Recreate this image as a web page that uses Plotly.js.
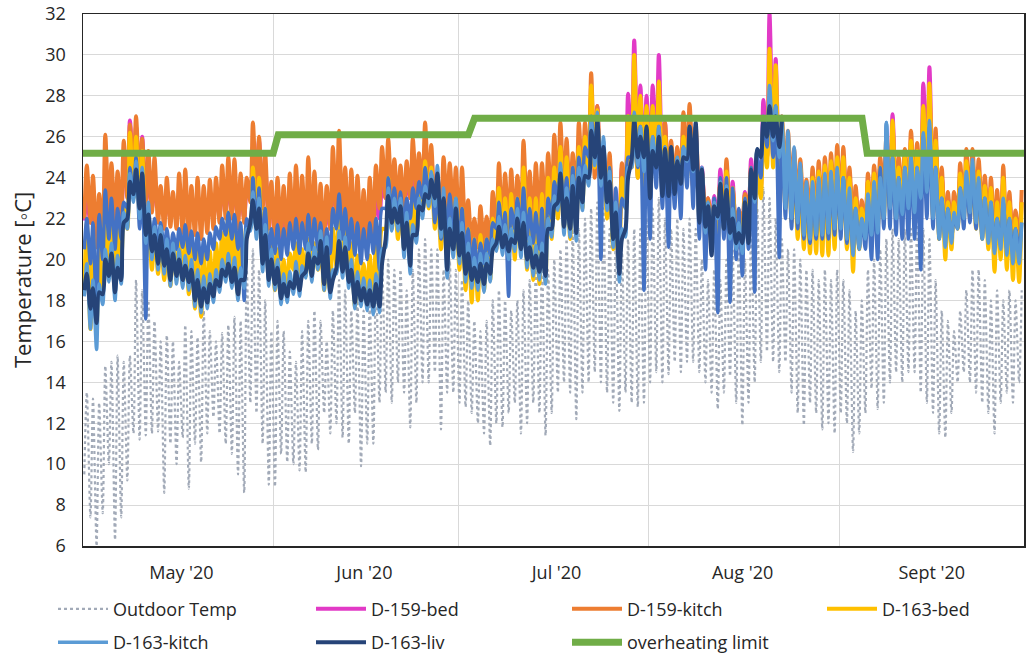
<!DOCTYPE html>
<html>
<head>
<meta charset="utf-8">
<script src="https://cdn.plot.ly/plotly-3.0.1.min.js"></script>
<style>
  html, body { margin: 0; padding: 0; background: #ffffff; }
  #chart { width: 1026px; height: 657px; }
</style>
</head>
<body>
<div id="chart"></div>
<script>
// Daily minimum / maximum readings, 1 May 2020 (index 0) to 30 Sept 2020 (index 152)
const yAxisTitle = 'Temperature [\u25E6C]';
const monthLabels = ["May '20", "Jun '20", "Jul '20", "Aug '20", "Sept '20"];
const monthLabelDates = ['2020-05-17', '2020-06-15 18:00', '2020-07-17', '2020-08-16 06:00', '2020-09-16'];
const monthStarts = ['2020-06-01', '2020-07-01', '2020-08-01', '2020-09-01'];

const outdoorMax = [
  13.5,13.2,13.0,14.8,15.0,15.3,15.0,15.3,19.0,18.5,18.0,17.0,16.0,16.3,16.0,15.0,16.8,16.5,16.2,17.5,16.5,16.0,16.4,16.8,17.2,17.0,19.5,20.5,19.5,18.0,16.5,
  17.0,16.5,15.5,15.0,16.5,17.0,17.5,17.0,16.0,17.5,19.0,18.5,17.5,18.0,17.5,18.0,19.0,20.0,20.0,19.5,19.5,18.5,19.5,20.5,21.0,20.5,20.5,19.5,20.0,19.5,
  19.0,18.0,17.0,16.5,17.0,18.0,18.5,18.0,17.5,18.0,18.5,19.0,19.5,20.0,19.5,20.0,20.5,21.0,21.5,21.5,22.0,22.5,22.8,22.5,21.5,21.0,20.5,21.0,21.5,21.5,22.0,
  22.5,23.0,22.0,21.5,22.0,21.5,22.0,21.5,20.0,19.0,19.5,19.0,20.0,20.5,21.0,20.0,21.5,22.5,23.5,23.0,22.0,21.0,20.5,20.5,20.0,19.5,19.5,19.0,19.5,19.0,19.5,
  19.0,18.5,17.5,18.0,19.5,20.0,20.5,21.0,21.5,21.0,21.5,21.5,22.0,21.5,21.0,19.0,17.5,17.0,16.5,17.5,18.5,19.5,19.5,19.0,18.0,18.5,18.0,18.5,18.0,18.5
];
const outdoorMin = [
  9.5,7.4,6.0,7.6,10.0,6.3,7.4,9.2,11.5,11.2,11.4,11.5,11.6,8.6,11.0,10.0,11.3,8.8,11.0,10.1,11.5,12.3,11.5,11.0,10.5,9.5,8.6,13.0,12.5,11.0,9.0,
  8.9,10.5,10.1,10.0,9.7,9.6,11.0,10.7,12.5,11.5,12.0,11.3,11.0,12.5,9.9,11.0,11.0,13.0,13.5,13.0,14.0,13.5,11.8,13.0,14.0,14.0,14.5,11.7,13.5,13.5,
  13.0,12.8,12.5,12.0,11.5,10.9,12.0,11.8,12.5,13.0,11.5,12.0,13.0,12.5,11.4,12.5,13.5,14.0,13.5,12.2,13.5,14.0,14.5,14.0,13.5,13.0,12.6,13.5,13.0,12.8,13.0,
  14.0,14.5,14.0,14.4,15.0,14.5,15.0,15.0,14.5,14.0,13.5,12.7,13.5,14.3,13.0,11.9,13.0,14.0,15.0,15.5,15.0,14.5,15.0,13.5,12.5,11.9,13.0,12.5,11.7,12.0,11.5,
  12.5,12.0,10.6,11.5,12.5,13.7,12.7,13.0,14.0,14.5,14.0,14.5,14.5,13.5,13.0,12.5,11.5,11.3,12.5,14.0,14.5,14.0,13.5,13.0,12.5,11.5,13.0,13.5,13.0,14.0
];

const bed159Max = [
  23.0,22.8,22.5,24.0,23.5,23.2,24.0,26.8,26.5,26.0,24.0,23.5,23.0,23.0,22.8,23.0,23.2,23.0,23.0,22.8,23.0,23.2,23.5,23.8,23.8,23.3,23.3,25.5,25.8,24.5,23.0,
  22.8,22.5,22.8,23.0,22.8,23.2,23.0,23.0,22.7,23.5,24.5,23.5,23.2,23.0,22.5,22.8,23.0,23.5,24.5,24.2,24.0,23.8,24.2,24.5,25.5,25.0,24.0,23.5,24.0,23.5,
  22.5,21.6,21.3,21.4,21.3,21.8,23.0,22.8,23.0,22.8,24.0,23.2,23.0,23.2,23.8,24.5,25.5,25.0,24.5,25.5,26.0,28.0,27.5,25.2,24.8,22.8,24.5,28.1,30.7,28.5,28.0,
  28.5,30.0,26.7,25.5,25.3,26.5,27.0,26.0,24.5,23.0,23.1,24.4,24.5,23.8,22.2,23.3,24.9,24.9,27.8,32.0,29.8,26.5,25.5,24.8,24.3,23.5,23.8,24.0,24.2,24.2,24.5,
  25.0,24.0,23.2,22.6,23.8,24.2,24.5,25.5,27.1,24.5,25.0,25.5,25.2,28.6,29.4,25.8,24.0,23.0,22.8,24.0,24.5,24.5,24.2,23.6,23.5,23.0,23.8,22.8,22.0,22.8
];
const bed159Min = [
  21.9,21.8,21.3,21.8,22.0,22.0,22.2,23.5,24.0,23.5,22.8,22.5,22.5,22.2,22.0,22.0,22.0,21.8,21.8,21.6,21.8,22.0,22.2,22.4,22.3,22.0,22.0,23.0,23.5,22.8,22.0,
  21.0,21.0,21.2,21.3,21.2,21.3,21.3,21.2,21.0,21.5,22.5,21.8,21.5,21.2,21.0,21.2,21.3,22.0,23.0,23.0,22.8,22.5,23.0,23.2,23.5,23.2,22.5,22.3,22.5,22.3,
  21.0,20.7,20.6,20.6,20.6,20.8,21.5,21.5,21.5,21.5,21.8,21.5,21.3,21.3,21.5,22.5,23.0,22.5,22.3,22.5,23.3,24.5,25.0,23.5,22.5,21.5,21.5,23.0,25.0,24.5,24.0,
  24.5,25.0,24.0,23.5,23.3,23.8,24.2,23.5,22.5,21.8,21.5,21.8,22.0,21.5,21.0,21.3,22.0,22.5,23.5,25.0,25.0,24.0,23.0,22.5,22.3,22.0,22.0,22.0,22.0,22.0,22.2,
  22.8,22.3,21.8,21.5,21.8,22.2,22.6,23.0,23.2,23.0,23.0,23.2,23.2,23.8,24.2,23.0,22.0,21.8,21.6,22.2,22.6,22.6,22.4,22.2,21.8,21.5,21.3,21.0,21.0,21.2
];

const kitch159Max = [
  24.6,24.1,23.2,26.1,24.7,24.3,25.8,26.6,27.0,25.9,25.3,25.0,23.6,24.0,23.3,24.2,24.4,23.6,24.0,23.6,23.9,24.0,24.6,25.0,24.9,24.2,24.0,26.7,26.0,25.2,23.8,
  24.0,23.6,24.2,24.6,24.1,25.0,24.3,23.7,23.6,25.5,26.3,24.5,24.4,24.1,23.4,24.0,24.6,25.5,25.9,24.9,24.6,24.8,25.9,25.2,26.7,25.6,24.1,25.0,24.7,24.5,
  24.5,22.9,22.0,22.6,22.1,23.3,24.7,24.2,24.4,24.1,25.8,24.3,24.7,24.7,25.2,26.1,26.7,25.9,25.2,26.7,26.7,29.1,27.5,25.4,25.2,22.8,24.7,27.0,27.5,26.5,26.0,
  26.5,27.5,26.7,25.8,25.5,27.2,27.6,26.5,24.3,23.0,22.8,23.8,24.9,23.5,22.4,23.2,24.5,24.5,26.5,28.0,27.5,27.0,26.3,25.4,24.9,23.9,24.5,24.8,25.0,25.2,25.6,
  25.5,24.5,23.6,22.9,24.2,24.6,25.0,26.0,26.5,25.0,25.4,26.3,25.7,27.0,28.0,26.4,24.5,23.3,23.3,24.7,25.4,25.4,24.9,24.1,24.0,23.4,24.6,23.3,22.4,23.4
];
const kitch159Min = [
  22.0,21.8,20.6,21.5,22.0,21.8,22.0,23.0,24.0,23.5,22.5,22.3,21.8,21.5,21.6,21.5,21.3,21.0,21.2,21.0,21.3,21.5,21.8,22.0,22.0,21.5,21.8,22.8,23.0,22.5,21.5,
  21.0,21.2,21.0,21.2,21.3,21.0,21.2,21.0,20.8,21.5,22.0,21.5,21.3,21.0,20.8,21.0,21.3,22.5,23.0,22.8,22.5,22.3,23.0,23.2,23.5,23.0,22.0,22.0,22.5,22.3,
  21.0,20.8,20.5,20.6,20.5,20.8,21.5,21.3,21.5,21.3,22.0,21.8,21.5,21.8,22.0,22.5,23.0,22.8,22.5,23.0,23.5,24.0,24.0,23.0,22.5,21.5,21.8,23.0,24.5,24.0,24.0,
  24.5,25.0,24.0,23.5,23.5,24.0,24.5,24.0,23.0,22.0,21.8,22.0,22.5,22.0,21.5,21.8,22.5,23.0,24.0,25.0,25.5,24.5,23.5,23.0,22.5,22.3,22.0,22.0,22.0,22.2,22.3,
  22.5,22.0,21.5,21.2,21.5,22.0,22.5,23.0,23.0,22.8,23.0,23.0,23.0,23.5,24.0,23.0,21.5,21.0,21.0,22.0,22.5,22.5,22.3,22.0,21.5,21.0,21.0,20.5,20.5,21.0
];

const bed163Max = [
  21.8,21.2,20.5,22.8,22.0,21.8,22.5,26.2,26.0,25.3,22.2,21.5,21.2,21.0,20.8,21.0,21.2,20.8,20.6,20.3,20.4,20.8,21.3,22.3,21.8,21.3,21.8,24.5,24.0,22.5,21.0,
  20.5,20.0,20.3,20.8,20.5,21.0,20.8,21.2,20.5,21.5,22.5,21.5,20.8,20.2,19.8,20.2,20.8,21.5,24.0,23.3,23.0,22.5,22.8,23.2,24.8,24.5,23.5,23.0,23.0,23.0,
  22.5,21.5,21.0,21.2,21.0,22.0,23.5,23.0,23.2,23.0,24.5,23.0,23.0,23.2,24.0,24.5,25.5,25.0,24.5,25.5,26.0,28.5,27.3,25.0,24.5,22.5,24.0,27.0,30.0,28.0,27.5,
  27.5,28.7,26.0,25.5,25.0,26.0,26.5,25.8,24.2,22.8,22.5,23.8,24.3,23.5,22.0,23.0,24.3,24.3,26.5,30.3,29.5,26.8,25.8,25.0,24.5,23.5,24.0,24.3,24.6,24.8,25.0,
  25.0,24.0,23.0,22.5,23.8,24.2,24.5,25.5,26.8,24.5,25.0,25.8,25.3,27.5,28.6,25.8,24.0,22.8,22.8,24.2,24.8,24.8,24.3,23.6,23.5,22.8,24.0,22.8,22.0,22.8
];
const bed163Min = [
  18.5,16.6,16.5,18.5,19.5,19.0,19.5,21.5,23.0,22.0,20.0,19.5,19.3,19.0,18.7,19.0,18.8,18.3,17.6,17.2,17.8,18.2,19.0,19.8,19.5,18.2,19.0,21.5,21.5,20.0,19.5,
  18.5,18.3,18.4,19.5,18.8,19.2,19.5,19.5,18.5,18.5,19.7,19.5,19.0,17.7,18.0,18.3,18.0,18.5,21.5,21.5,21.0,20.5,20.5,21.5,22.5,22.5,21.5,20.5,20.0,20.5,
  19.5,18.5,17.9,18.0,18.5,19.0,20.5,20.5,20.3,20.0,20.5,19.5,19.0,18.8,18.9,21.0,22.0,21.5,21.0,21.5,22.5,24.0,24.5,23.0,22.0,20.5,20.0,22.5,24.5,24.0,23.5,
  24.0,24.5,23.5,23.0,23.0,23.5,24.0,23.5,22.0,21.5,21.2,21.0,21.5,21.0,20.8,21.0,21.5,22.0,23.0,24.5,24.5,23.5,22.5,21.8,21.0,20.5,20.3,20.3,20.2,20.2,20.5,
  21.3,20.5,19.4,20.5,21.0,21.3,21.5,22.0,22.5,22.0,22.0,22.3,22.3,23.0,23.5,22.0,21.0,20.0,20.5,21.5,22.0,22.0,21.5,21.0,20.5,19.4,20.0,19.5,19.0,18.9
];

// series drawn in the reference without a legend entry (medium blue)
const unlabelledMax = [
  22.0,21.8,22.2,23.4,23.0,22.5,22.8,24.5,25.0,24.2,22.5,22.0,21.8,21.5,21.3,21.5,21.7,21.4,21.3,21.0,21.3,21.6,22.0,22.3,22.2,21.8,22.0,24.0,23.5,22.5,21.5,
  21.7,21.5,21.8,22.0,21.8,22.2,22.0,21.8,21.5,22.5,23.2,22.5,22.0,21.8,21.5,21.8,22.0,22.5,24.0,23.5,23.3,23.0,23.5,23.8,24.5,24.2,23.5,23.0,23.2,23.0,
  22.5,21.5,21.0,20.8,21.0,21.8,22.8,22.3,22.5,23.0,23.5,22.5,22.3,22.5,23.0,23.8,24.5,24.0,24.5,25.0,25.5,27.0,26.8,25.8,24.5,23.5,23.0,25.0,27.0,26.5,26.0,
  26.0,26.5,25.5,25.0,25.0,25.5,26.5,26.5,24.5,22.8,23.0,24.0,24.0,23.5,22.5,23.0,24.5,25.0,27.0,28.0,27.5,26.5,25.5,24.8,24.3,23.5,23.5,23.8,24.0,24.0,24.2,
  24.0,23.0,22.5,22.0,23.0,23.5,24.5,26.7,25.0,24.0,24.5,25.0,24.5,26.0,26.5,24.5,23.0,22.5,22.0,23.5,24.0,24.5,23.8,23.0,22.8,22.0,22.8,22.0,21.5,21.8
];
const unlabelledMin = [
  20.5,19.8,17.0,20.0,21.0,20.5,21.0,22.5,23.0,21.5,17.1,20.5,20.8,20.5,20.2,20.5,20.6,20.3,20.0,19.8,20.0,20.5,21.0,21.2,21.0,20.5,18.0,21.5,21.5,20.5,20.0,
  20.3,20.0,20.2,20.5,20.3,20.5,20.5,20.5,20.0,20.3,21.5,21.0,20.5,20.2,19.8,20.0,20.3,19.5,22.5,22.3,22.0,21.5,22.0,22.5,23.0,23.0,21.8,21.0,21.5,21.5,
  20.5,20.0,19.5,19.3,19.8,20.2,21.5,21.0,18.2,21.5,21.5,21.0,20.8,20.5,19.0,22.0,23.0,22.5,22.0,22.5,23.5,25.0,25.0,20.0,22.5,21.0,20.5,22.5,25.0,24.5,18.5,
  21.0,23.5,22.5,20.6,22.5,22.0,23.5,22.5,21.0,19.5,21.0,17.4,21.0,17.9,20.0,19.2,20.5,18.4,24.0,25.5,25.0,20.1,22.0,21.5,21.5,21.0,20.8,21.0,21.0,21.0,21.2,
  21.0,20.8,20.5,20.5,20.5,20.0,20.0,21.5,21.5,21.2,21.0,21.0,21.0,19.5,22.0,21.5,21.0,21.0,21.0,21.5,21.5,21.8,21.5,21.0,21.0,20.5,20.8,20.5,20.3,20.5
];

const kitch163Max = [
  19.8,19.0,18.8,20.5,20.8,20.2,22.3,24.2,24.8,24.5,22.8,21.6,21.6,21.0,20.8,20.5,20.2,20.0,19.5,19.2,19.3,19.5,20.0,20.3,20.1,19.6,21.5,23.3,23.0,21.7,20.5,
  20.0,19.3,19.4,19.9,19.7,20.8,20.6,21.4,21.1,19.5,21.4,21.1,20.0,19.4,19.1,19.0,19.3,20.5,23.5,23.0,23.0,22.3,21.7,23.0,23.6,24.3,24.6,23.5,22.0,23.0,
  21.8,20.8,20.1,20.3,20.3,21.0,22.1,21.7,21.5,22.5,22.3,21.1,20.7,20.8,22.0,23.1,24.7,23.5,24.1,24.5,24.6,26.8,27.2,26.0,24.3,22.8,21.5,24.5,27.2,26.5,26.3,
  26.0,26.5,25.5,25.5,25.0,25.5,26.5,26.5,24.5,22.8,22.8,23.8,23.6,22.5,21.8,22.8,24.4,25.4,27.0,28.5,27.5,27.0,26.3,25.5,24.7,23.8,23.8,24.0,24.2,24.3,24.5,
  24.0,23.5,22.5,22.0,23.2,23.8,24.0,26.7,25.0,24.0,24.5,25.0,24.5,26.2,26.8,24.5,23.0,22.5,22.3,23.5,24.3,24.9,24.0,23.0,22.8,22.0,23.0,22.0,21.5,21.8
];
const kitch163Min = [
  18.2,16.6,15.6,17.8,18.9,18.0,18.8,21.5,22.8,22.0,20.8,20.0,19.5,19.3,18.7,18.8,18.6,18.5,17.7,17.4,17.6,17.9,18.4,18.9,18.6,18.0,18.6,21.4,21.0,19.4,18.7,
  18.5,17.8,17.9,18.3,18.2,19.1,18.9,19.5,18.5,18.1,19.3,19.1,18.6,17.6,17.7,17.5,17.3,17.4,20.6,21.4,21.4,20.1,19.3,20.8,22.0,22.6,22.6,21.1,19.1,20.1,
  19.8,18.9,18.6,18.5,18.4,18.9,20.4,20.2,20.0,20.4,20.1,19.6,19.2,19.0,18.8,21.1,22.4,21.2,21.1,20.9,22.4,23.6,24.6,23.6,22.4,20.6,18.9,21.1,24.5,24.6,24.3,
  23.5,24.5,23.5,23.3,23.3,23.8,24.8,24.3,22.0,21.3,20.8,22.0,21.5,21.0,20.5,20.3,20.8,22.8,25.0,26.0,25.8,25.0,22.5,22.0,21.8,21.2,21.0,21.2,21.2,21.3,21.5,
  21.5,21.0,20.2,20.5,21.0,21.2,21.3,22.0,22.5,22.0,22.2,22.5,22.3,23.0,23.3,22.0,21.0,20.6,20.8,21.5,22.0,22.3,21.8,21.0,20.8,20.3,20.5,20.2,19.8,19.8
];

// D-163-liv has no readings after 21 Aug
const liv163Max = [
  19.3,18.6,18.4,20.0,20.3,19.6,21.8,23.8,24.4,24.2,22.2,21.2,21.2,20.5,20.3,20.0,19.7,19.5,19.0,18.6,18.8,19.0,19.5,19.8,19.6,19.0,21.0,22.9,22.5,21.2,20.0,
  19.6,18.8,18.9,19.4,19.2,20.3,20.1,20.9,20.6,19.0,20.9,20.6,19.5,18.9,18.6,18.5,18.8,19.8,23.1,22.5,22.6,21.8,21.2,22.6,23.2,23.9,24.2,23.0,21.5,22.5,
  21.3,20.3,19.6,19.8,19.8,20.5,21.6,21.2,21.0,22.0,21.8,20.6,20.2,20.3,21.5,22.6,24.2,23.0,23.6,24.0,24.1,26.3,26.8,25.5,23.8,22.3,21.0,24.0,26.8,26.0,26.5,
  25.3,26.0,25.4,25.5,24.8,25.0,26.5,26.7,24.4,22.6,22.6,23.7,23.4,22.0,21.3,22.8,24.4,25.4,26.8,27.5,27.0,26.8,null,null,null,null,null,null,null,null,null,
  null,null,null,null,null,null,null,null,null,null,null,null,null,null,null,null,null,null,null,null,null,null,null,null,null,null,null,null,null,null
];
const liv163Min = [
  18.5,17.6,16.9,18.3,19.2,18.4,19.0,22.0,23.2,22.5,21.2,20.4,19.8,19.7,19.0,19.2,19.0,18.9,18.0,17.7,17.9,18.2,18.7,19.2,18.9,18.3,19.0,21.8,21.5,19.8,19.0,
  18.8,18.1,18.2,18.6,18.5,19.4,19.2,19.8,18.8,18.4,19.6,19.4,18.9,17.9,18.0,17.8,17.7,17.7,21.0,21.8,21.8,20.5,19.7,21.2,22.4,23.0,23.0,21.5,19.5,20.5,
  20.2,19.3,19.0,18.9,18.8,19.3,20.8,20.6,20.4,20.8,20.5,20.0,19.6,19.4,19.2,21.5,22.8,21.6,21.5,21.3,22.8,24.0,25.0,24.0,22.8,21.0,19.3,21.5,24.9,25.0,25.0,
  23.0,24.5,23.1,23.1,23.2,23.7,24.9,24.4,21.8,21.6,20.2,22.1,21.5,21.3,20.8,20.8,20.8,23.0,25.0,26.0,26.0,25.5,null,null,null,null,null,null,null,null,null,
  null,null,null,null,null,null,null,null,null,null,null,null,null,null,null,null,null,null,null,null,null,null,null,null,null,null,null,null,null,null
];

const limitDates = ['2020-05-01 00:00', '2020-05-31 22:00', '2020-06-01 18:00', '2020-07-02 16:00',
                    '2020-07-03 16:00', '2020-09-04 16:00', '2020-09-05 12:00', '2020-10-01 00:00'];
const limitValues = [25.2, 25.2, 26.1, 26.1, 26.9, 26.9, 25.2, 25.2];

// ---------- build ----------
const START = Date.UTC(2020, 4, 1);
function stamp(day, hour) {
  const t = new Date(START + (day * 24 + hour) * 3600000);
  return t.toISOString().slice(0, 16).replace('T', ' ');
}
function diurnal(mins, maxs) {
  const x = [], y = [];
  for (let d = 0; d < mins.length; d++) {
    x.push(stamp(d, 5));  y.push(mins[d]);
    x.push(stamp(d, 15)); y.push(maxs[d]);
  }
  return { x, y };
}
function series(name, mins, maxs, line, legendId, extra) {
  const p = diurnal(mins, maxs);
  return Object.assign({
    type: 'scatter', mode: 'lines', name: name, x: p.x, y: p.y,
    line: Object.assign({ shape: 'spline', smoothing: 0.8 }, line),
    connectgaps: false, hoverinfo: 'skip',
    legend: legendId, legendgroup: name
  }, extra || {});
}

const traces = [
  series('Outdoor Temp', outdoorMin, outdoorMax, { color: '#A2AAB8', width: 2.2, dash: 'dot' }, 'legend'),
  series('D-159-bed', bed159Min, bed159Max, { color: '#E23AC6', width: 4 }, 'legend2'),
  series('D-159-kitch', kitch159Min, kitch159Max, { color: '#ED7D31', width: 4 }, 'legend3'),
  series('D-163-bed', bed163Min, bed163Max, { color: '#FFC000', width: 4 }, 'legend4'),
  series('unlabelled', unlabelledMin, unlabelledMax, { color: '#4472C4', width: 3.5 }, 'legend', { showlegend: false }),
  series('D-163-kitch', kitch163Min, kitch163Max, { color: '#5B9BD5', width: 3.5 }, 'legend'),
  series('D-163-liv', liv163Min, liv163Max, { color: '#264478', width: 4 }, 'legend2'),
  { type: 'scatter', mode: 'lines', name: 'overheating limit', x: limitDates, y: limitValues,
    line: { color: '#70AD47', width: 7 }, hoverinfo: 'skip', legend: 'legend3', legendgroup: 'overheating limit' }
];

const FONT = '"Open Sans", "Noto Sans", sans-serif';
function legendAt(px) {
  return {
    orientation: 'v', xref: 'container', yref: 'container',
    x: px / 1026, xanchor: 'left', y: 0.1011, yanchor: 'top',
    font: { family: FONT, size: 18, color: '#262626' },
    bgcolor: 'rgba(0,0,0,0)', traceorder: 'grouped', itemwidth: 50, tracegroupgap: 7
  };
}
const layout = {
  width: 1026, height: 657,
  margin: { l: 83, r: 2, t: 14, b: 111, autoexpand: false },
  paper_bgcolor: '#ffffff', plot_bgcolor: '#ffffff',
  font: { family: FONT, size: 18, color: '#333333' },
  showlegend: true,
  xaxis: {
    type: 'date',
    range: ['2020-05-01', '2020-10-01'],
    tickmode: 'array', tickvals: monthLabelDates, ticktext: monthLabels,
    ticks: '', showgrid: false, zeroline: false, automargin: false,
    showline: true, linecolor: '#262626', linewidth: 1.5, mirror: true,
    ticklabelstandoff: 10,
    tickfont: { family: FONT, size: 18, color: '#262626' },
    minor: { tickmode: 'array', tickvals: monthStarts, showgrid: true, gridcolor: '#D9D9D9', gridwidth: 1, ticks: '' }
  },
  yaxis: {
    range: [6, 32], tickmode: 'linear', tick0: 6, dtick: 2,
    ticks: '', showgrid: true, gridcolor: '#D9D9D9', gridwidth: 1, zeroline: false, automargin: false,
    showline: true, linecolor: '#262626', linewidth: 1.5, mirror: true,
    ticklabelstandoff: 12,
    tickfont: { family: FONT, size: 18, color: '#262626' }
  },
  annotations: [{
    text: yAxisTitle, xref: 'paper', yref: 'paper', x: 0, y: 0.5,
    xanchor: 'center', yanchor: 'middle', xshift: -61, textangle: -90, showarrow: false,
    font: { family: FONT, size: 22, color: '#262626' }
  }],
  legend: legendAt(53),
  legend2: legendAt(311),
  legend3: legendAt(567),
  legend4: legendAt(822)
};

Plotly.newPlot('chart', traces, layout, { displayModeBar: false, staticPlot: true });
</script>
</body>
</html>
